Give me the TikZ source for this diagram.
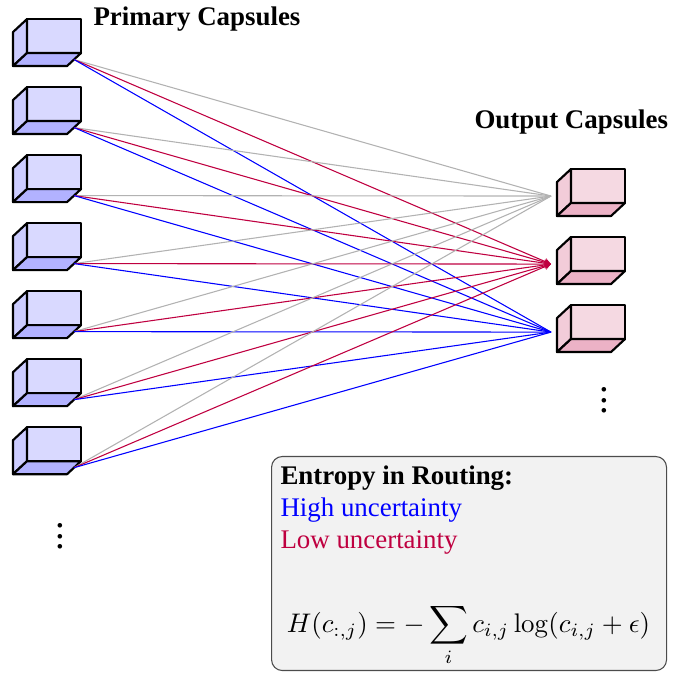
\documentclass[tikz,border=0pt]{standalone}
\usepackage[no-math]{fontspec}
\setmainfont{Liberation Serif}
\usepackage{amsmath}
\usetikzlibrary{arrows.meta, positioning}

\tikzset{
  capsule/.pic={
    \begin{scope}[thick, line join=round]
      \filldraw[fill=#1!15] (0,0) rectangle (0.706,0.444);
      \filldraw[fill=#1!20] (0,0) -- (0,0.444) -- (-0.183,0.274) -- (-0.183,-0.170) -- cycle;
      \filldraw[fill=#1!30] (0,0) -- (0.706,0) -- (0.523,-0.170) -- (-0.183,-0.170) -- cycle;
    \end{scope}
    \coordinate (-out) at (0.6145,-0.085);
    \coordinate (-in) at (-0.261,0.091);
  }
}

\begin{document}
\begin{tikzpicture}[
    heading/.style={font=\bfseries, anchor=base west, inner sep=0pt},
    cont/.style={inner sep=0pt, anchor=south, font=\Large},
    entropybox/.style={rectangle, draw=black!70, fill=gray!10, rounded corners=4pt,
                       minimum width=5.162cm, minimum height=2.797cm},
    weak/.style={gray!60},
    high/.style={blue},
    low/.style={purple, -{Stealth[length=2.5pt, width=2.5pt]}}
  ]
  \useasboundingbox (0,0) rectangle (9.07,-8.795);

  % capsules
  \foreach \i in {1,...,7}
    \pic (p\i) at (0.353,{-0.693-0.889*(\i-1)}) {capsule=blue};
  \foreach \j in {1,2,3}
    \pic (o\j) at (7.462,{-2.653-0.889*(\j-1)}) {capsule=purple};

  \node[heading] (prim) at (1.215,-0.327) {Primary Capsules};
  \node[heading] (outp) at (6.195,-1.673) {Output Capsules};
  \node[cont] (pmore) at (0.784,-7.188) {$\vdots$};
  \node[cont] (omore) at (7.894,-5.411) {$\vdots$};

  % routing links
  \foreach \i in {1,...,7} {
    \draw[weak] (p\i-out) -- (o1-in);
    \draw[low]  (p\i-out) -- (o2-in);
    \draw[high] (p\i-out) -- (o3-in);
  }

  \node[entropybox, anchor=north west] (entropy) at (3.542,-5.959) {};
  \node[anchor=north west, align=left, inner sep=3.333pt] (enttext) at (entropy.north west)
    {\textbf{Entropy in Routing:}\\
     \textcolor{blue}{High uncertainty}\\
     \textcolor{purple}{Low uncertainty}};
  \node[anchor=base] (entform) at (6.123,-8.260)
    {$\displaystyle H(c_{:,j}) = -\sum_i c_{i,j}\log(c_{i,j}+\epsilon)$};
\end{tikzpicture}
\end{document}
